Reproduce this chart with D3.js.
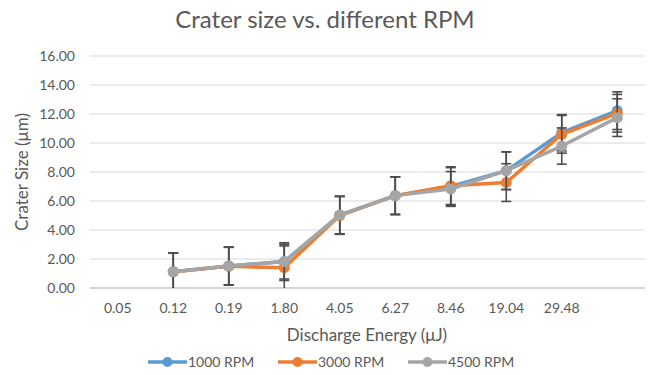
<!DOCTYPE html>
<html lang="en">
<head>
    <meta charset="UTF-8">
    <title>Crater size vs. different RPM</title>
    <script src="https://cdn.jsdelivr.net/npm/d3@7"></script>
    <style>
        body { margin: 0; background: #fff; }
        svg { font-family: Lato, "Open Sans", sans-serif; }
    </style>
</head>
<body>
<div id="chart"></div>
<script>
    const width = 648;
    const height = 375;

    // 10 categories, the last one has no label, the first one has no data
    const categories = ["0.05", "0.12", "0.19", "1.80", "4.05", "6.27", "8.46", "19.04", "29.48", ""];

    const rpm1000 = [null, 1.12, 1.52, 1.82, 5.03, 6.37, 7.00, 8.09, 10.71, 12.23];
    const rpm3000 = [null, 1.12, 1.50, 1.40, 5.00, 6.37, 7.06, 7.27, 10.60, 12.05];
    const rpm4500 = [null, 1.12, 1.52, 1.82, 5.03, 6.37, 6.83, 8.09, 9.79, 11.75];

    const err1000 = [null, 1.3, 1.3, 1.3, 1.3, 1.3, 1.3, 1.3, 1.25, 1.3];
    const err3000 = [null, 1.3, 1.3, 1.5, 1.3, 1.3, 1.3, 1.3, 1.3, 1.3];
    const err4500 = [null, 1.3, 1.3, 1.2, 1.3, 1.3, 1.2, 1.3, 1.25, 1.3];

    const yTicks = [0, 2, 4, 6, 8, 10, 12, 14, 16];

    const series = [
        {name: "1000 RPM", values: rpm1000, err: err1000, color: "#5B9BD5"},
        {name: "3000 RPM", values: rpm3000, err: err3000, color: "#ED7D31"},
        {name: "4500 RPM", values: rpm4500, err: err4500, color: "#A5A5A5"}
    ];

    const plot = {left: 90, right: 645, top: 56, bottom: 288};

    const svg = d3.select("#chart")
        .append("svg")
        .attr("width", width)
        .attr("height", height)
        .attr("viewBox", `0 0 ${width} ${height}`);

    const x = d3.scaleBand().domain(d3.range(categories.length)).range([plot.left, plot.right]);
    const y = d3.scaleLinear().domain([0, 16]).range([plot.bottom, plot.top]);

    // title
    svg.append("text")
        .attr("x", 325).attr("y", 28)
        .attr("text-anchor", "middle")
        .attr("font-size", 24)
        .attr("fill", "#595959")
        .text("Crater size vs. different RPM");

    // grid lines
    svg.append("g").selectAll("line")
        .data(yTicks)
        .join("line")
        .attr("x1", plot.left).attr("x2", plot.right)
        .attr("y1", d => y(d)).attr("y2", d => y(d))
        .attr("stroke", d => d === 0 ? "#C8C8C8" : "#D9D9D9")
        .attr("stroke-width", d => d === 0 ? 1.4 : 1);

    // y axis labels
    const yAxis = svg.append("g")
        .attr("transform", `translate(${plot.left},0)`)
        .call(d3.axisLeft(y).tickValues(yTicks).tickFormat(d3.format(".2f")).tickSize(0).tickPadding(15));
    yAxis.select(".domain").remove();
    yAxis.selectAll("text").attr("font-size", 14).attr("fill", "#595959").attr("font-family", "Lato, sans-serif");

    // x axis labels
    const xAxis = svg.append("g")
        .attr("transform", `translate(0,${plot.bottom})`)
        .call(d3.axisBottom(x).tickFormat(i => categories[i]).tickSize(0).tickPadding(15));
    xAxis.select(".domain").remove();
    xAxis.selectAll("text").attr("font-size", 14).attr("fill", "#595959").attr("font-family", "Lato, sans-serif");

    // axis titles
    svg.append("text")
        .attr("x", 367).attr("y", 341)
        .attr("text-anchor", "middle")
        .attr("font-size", 17)
        .attr("fill", "#595959")
        .text("Discharge Energy (μJ)");

    svg.append("text")
        .attr("transform", `translate(28,${(plot.top + plot.bottom) / 2}) rotate(-90)`)
        .attr("text-anchor", "middle")
        .attr("font-size", 17)
        .attr("fill", "#595959")
        .text("Crater Size (μm)");

    const cx = i => x(i) + x.bandwidth() / 2;

    const line = d3.line()
        .defined(d => d != null)
        .x((d, i) => cx(i))
        .y(d => y(d));

    series.forEach(s => {
        const g = svg.append("g");
        const pts = s.values.map((v, i) => ({v, i, e: s.err[i]})).filter(d => d.v != null);

        // error bars
        const eb = g.append("g").attr("stroke", "#4D4D4D").attr("stroke-width", 1.6);
        eb.selectAll(".stem").data(pts).join("line")
            .attr("x1", d => cx(d.i)).attr("x2", d => cx(d.i))
            .attr("y1", d => y(d.v + d.e)).attr("y2", d => y(Math.max(0, d.v - d.e)));
        eb.selectAll(".capTop").data(pts).join("line")
            .attr("x1", d => cx(d.i) - 5).attr("x2", d => cx(d.i) + 5)
            .attr("y1", d => y(d.v + d.e)).attr("y2", d => y(d.v + d.e));
        eb.selectAll(".capBot").data(pts.filter(d => d.v - d.e > 0)).join("line")
            .attr("x1", d => cx(d.i) - 5).attr("x2", d => cx(d.i) + 5)
            .attr("y1", d => y(d.v - d.e)).attr("y2", d => y(d.v - d.e));

        g.append("path")
            .datum(s.values)
            .attr("fill", "none")
            .attr("stroke", s.color)
            .attr("stroke-width", 3.5)
            .attr("stroke-linejoin", "round")
            .attr("d", line);

        g.selectAll("circle").data(pts).join("circle")
            .attr("cx", d => cx(d.i)).attr("cy", d => y(d.v))
            .attr("r", 5.5)
            .attr("fill", s.color);
    });

    // legend
    const legendX = [148, 278, 408];
    const legend = svg.append("g");
    series.forEach((s, i) => {
        const lg = legend.append("g").attr("transform", `translate(${legendX[i]},362)`);
        lg.append("line").attr("x1", 0).attr("x2", 39).attr("y1", 0).attr("y2", 0)
            .attr("stroke", s.color).attr("stroke-width", 3.5);
        lg.append("circle").attr("cx", 19.5).attr("cy", 0).attr("r", 5).attr("fill", s.color);
        lg.append("text").attr("x", 40).attr("y", 5)
            .attr("font-size", 14).attr("fill", "#595959")
            .text(s.name);
    });
</script>
</body>
</html>
